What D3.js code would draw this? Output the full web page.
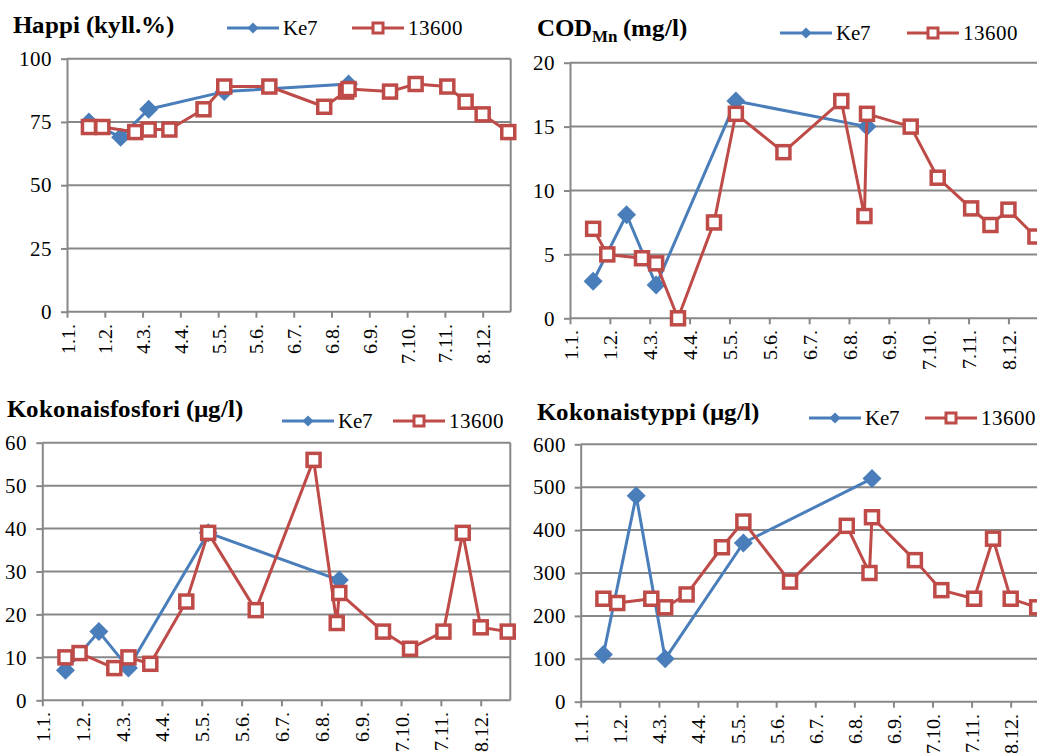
<!DOCTYPE html>
<html>
<head>
<meta charset="utf-8">
<script src="https://cdn.jsdelivr.net/npm/d3@7"></script>
<style>
  @font-face {
    font-family: "ChartSerif";
    src: local("Liberation Serif"), local("LiberationSerif"), local("LiberationSerif-Regular"),
         local("Times New Roman"), local("DejaVu Serif"), local("DejaVuSerif");
    font-weight: normal;
  }
  @font-face {
    font-family: "ChartSerif";
    src: local("Liberation Serif Bold"), local("LiberationSerif-Bold"),
         local("Times New Roman Bold"), local("DejaVu Serif Bold"), local("DejaVuSerif-Bold");
    font-weight: bold;
  }
  html, body { margin: 0; padding: 0; background: #fff; }
  svg { display: block; }
  svg text { font-family: "ChartSerif", "Liberation Serif", "Times New Roman", "DejaVu Serif", serif; }
</style>
</head>
<body>
<svg id="chart" width="1037" height="753"></svg>
<script>
// x axis: date axis, one tick every 31 days
const tickDates = ["2013-01-01", "2013-02-01", "2013-03-04", "2013-04-04", "2013-05-05", "2013-06-05",
  "2013-07-06", "2013-08-06", "2013-09-06", "2013-10-07", "2013-11-07", "2013-12-08"];
const axisStart = "2013-01-01";
const axisEnd = "2013-12-31";

// sampling dates
const ke7Dates = ["2013-01-19", "2013-02-14", "2013-03-09", "2013-05-10", "2013-08-20"];
const st13600Dates = ["2013-01-19", "2013-01-30", "2013-02-26", "2013-03-09", "2013-03-26", "2013-04-23",
  "2013-05-10", "2013-06-16", "2013-07-31", "2013-08-18", "2013-08-20", "2013-09-23", "2013-10-14",
  "2013-11-09", "2013-11-24", "2013-12-08", "2013-12-29"];

// Happi (kyll.%)
const happiKe7 = [75, 69, 80, 87, 90];
const happi13600 = [73, 73, 71, 72, 72, 80, 89, 89, 81, 87, 88, 87, 90, 89, 83, 78, 71];

// COD Mn (mg/l)
const codKe7 = [2.9, 8.1, 2.6, 17, 15];
const cod13600 = [7, 5, 4.7, 4.3, 0, 7.5, 16, 13, 17, 8, 16, 15, 11, 8.6, 7.3, 8.5, 6.4];

// Kokonaisfosfori (µg/l)
const fosforiKe7 = [7, 16, 7.5, 39, 28];
const fosfori13600 = [10, 11, 7.5, 10, 8.5, 23, 39, 21, 56, 18, 25, 16, 12, 16, 39, 17, 16];

// Kokonaistyppi (µg/l)
const typpiKe7 = [110, 480, 100, 370, 520];
const typpi13600 = [240, 230, 240, 220, 250, 360, 420, 280, 410, 300, 430, 330, 260, 240, 380, 240, 220];

const seriesNames = ["Ke7", "13600"];

const parse = d3.timeParse("%Y-%m-%d");
const fmt = d => `${d.getDate()}.${d.getMonth() + 1}.`;

const BLUE = "#4a7ebb";
const RED = "#be4b48";
const GRID = "#878787";

const svg = d3.select("#chart");

function drawPanel(p) {
  const g = svg.append("g");

  const x = d3.scaleTime()
    .domain([parse(axisStart), parse(axisEnd)])
    .range([p.left, p.right]);
  const y = d3.scaleLinear()
    .domain([0, p.yMax])
    .range([p.bottom, p.top]);
  const yTicks = d3.range(0, p.yMax + p.yStep / 2, p.yStep);

  // gridlines
  g.append("g")
    .selectAll("line")
    .data(yTicks.filter(t => t > 0))
    .join("line")
    .attr("x1", p.left).attr("x2", p.right)
    .attr("y1", d => y(d)).attr("y2", d => y(d))
    .attr("stroke", GRID).attr("stroke-width", 2);

  // right border of the plot area
  g.append("line")
    .attr("x1", p.right).attr("x2", p.right)
    .attr("y1", p.top).attr("y2", p.bottom)
    .attr("stroke", GRID).attr("stroke-width", 2);

  // y axis
  const yAxis = g.append("g")
    .attr("transform", `translate(${p.left},0)`)
    .call(d3.axisLeft(y).tickValues(yTicks).tickSize(6).tickPadding(9).tickSizeOuter(0));
  yAxis.attr("font-family", null);
  yAxis.select(".domain").attr("stroke", GRID).attr("stroke-width", 2);
  yAxis.selectAll(".tick line").attr("stroke", GRID).attr("stroke-width", 2);
  yAxis.selectAll(".tick text")
    .attr("font-size", 21).attr("fill", "#000");

  // x axis
  const xAxis = g.append("g")
    .attr("transform", `translate(0,${p.bottom})`)
    .call(d3.axisBottom(x).tickValues(tickDates.map(parse)).tickFormat(fmt).tickSize(6).tickSizeOuter(0));
  xAxis.attr("font-family", null);
  xAxis.select(".domain").attr("stroke", GRID).attr("stroke-width", 2)
    .attr("d", `M${p.left},0H${p.right}`);
  xAxis.selectAll(".tick line").attr("stroke", GRID).attr("stroke-width", 2);
  xAxis.selectAll(".tick text")
    .attr("font-size", 20).attr("fill", "#000")
    .attr("text-anchor", "end")
    .attr("x", 0).attr("y", 0).attr("dy", "0.35em")
    .attr("transform", "translate(0,12) rotate(-90)");

  const line = d3.line().x(d => x(d[0])).y(d => y(d[1]));
  const blue = ke7Dates.map((d, i) => [parse(d), p.ke7[i]]);
  const red = st13600Dates.map((d, i) => [parse(d), p.st[i]]);

  const diamond = d3.symbol().type(d3.symbolDiamond2).size(230);

  // Ke7 series
  g.append("path").datum(blue)
    .attr("d", line).attr("fill", "none")
    .attr("stroke", BLUE).attr("stroke-width", 3).attr("stroke-linejoin", "round");
  g.append("g").selectAll("path")
    .data(blue).join("path")
    .attr("transform", d => `translate(${x(d[0])},${y(d[1])})`)
    .attr("d", diamond).attr("fill", BLUE);

  // 13600 series
  g.append("path").datum(red)
    .attr("d", line).attr("fill", "none")
    .attr("stroke", RED).attr("stroke-width", 3).attr("stroke-linejoin", "round");
  g.append("g").selectAll("rect")
    .data(red).join("rect")
    .attr("x", d => x(d[0]) - 6.5).attr("y", d => y(d[1]) - 6.5)
    .attr("width", 13).attr("height", 13)
    .attr("fill", "#fff").attr("stroke", RED).attr("stroke-width", 3.5);

  // title
  const title = g.append("text")
    .attr("x", p.titleX).attr("y", p.titleY)
    .attr("font-size", 25).attr("font-weight", "bold")
    .attr("fill", "#000");
  title.append("tspan").text(p.title[0]);
  if (p.title.length > 2) {
    title.append("tspan").attr("font-size", 17).attr("dy", 6).text(p.title[1]);
    title.append("tspan").attr("dy", -6).text(p.title[2]);
  }

  // legend
  const lg = g.append("g").attr("transform", `translate(${p.legX},${p.legY})`);
  lg.append("line").attr("x1", 0).attr("x2", 52).attr("stroke", BLUE).attr("stroke-width", 3);
  lg.append("path").attr("transform", "translate(26,0)")
    .attr("d", d3.symbol().type(d3.symbolDiamond2).size(80)).attr("fill", BLUE);
  lg.append("text").attr("x", 56).attr("dy", "0.35em")
    .attr("font-size", 21).text(seriesNames[0]);
  lg.append("line").attr("x1", p.legGap).attr("x2", p.legGap + 52).attr("stroke", RED).attr("stroke-width", 3);
  lg.append("rect").attr("x", p.legGap + 21).attr("y", -5).attr("width", 10).attr("height", 10)
    .attr("fill", "#fff").attr("stroke", RED).attr("stroke-width", 3);
  lg.append("text").attr("x", p.legGap + 56).attr("dy", "0.35em")
    .attr("font-size", 21).text(seriesNames[1]);
}

drawPanel({
  left: 67, right: 510.7, top: 58.7, bottom: 311.7, yMax: 100, yStep: 25,
  ke7: happiKe7, st: happi13600,
  title: ["Happi (kyll.%)"], titleX: 13, titleY: 33,
  legX: 227, legY: 28, legGap: 125
});
drawPanel({
  left: 570, right: 1038, top: 62.7, bottom: 318.3, yMax: 20, yStep: 5,
  ke7: codKe7, st: cod13600,
  title: ["COD", "Mn", " (mg/l)"], titleX: 537, titleY: 36,
  legX: 780, legY: 33, legGap: 127
});
drawPanel({
  left: 42.3, right: 510.3, top: 442.7, bottom: 700.3, yMax: 60, yStep: 10,
  ke7: fosforiKe7, st: fosfori13600,
  title: ["Kokonaisfosfori (µg/l)"], titleX: 7, titleY: 417,
  legX: 282, legY: 421, legGap: 111
});
drawPanel({
  left: 580.7, right: 1039.7, top: 444.3, bottom: 701.7, yMax: 600, yStep: 100,
  ke7: typpiKe7, st: typpi13600,
  title: ["Kokonaistyppi (µg/l)"], titleX: 537, titleY: 420,
  legX: 809, legY: 418, legGap: 116
});
</script>
</body>
</html>
